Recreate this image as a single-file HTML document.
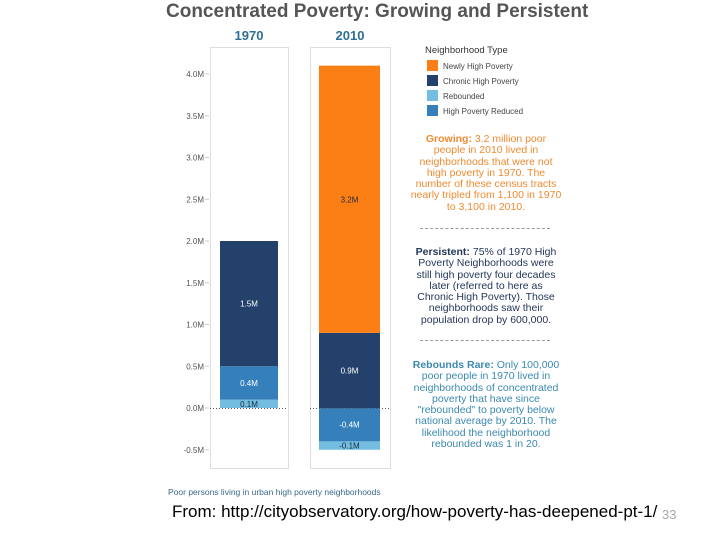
<!DOCTYPE html>
<html><head><meta charset="utf-8"><style>
body{margin:0;background:#fff;font-family:"Liberation Sans",sans-serif}
#root{position:relative;width:720px;height:540px;overflow:hidden}
.t{position:absolute;white-space:nowrap}
.note{position:absolute;text-align:center;font-size:10.5px;line-height:11.3px;width:152px}
</style></head><body>
<div id="root">
<div class="t" style="left:166px;top:1px;font-size:19px;font-weight:bold;color:#555">Concentrated Poverty: Growing and Persistent</div>
<svg id="chart" width="720" height="540" style="position:absolute;left:0;top:0"></svg>
<div class="t" style="left:425px;top:45px;font-size:9.5px;color:#333">Neighborhood Type</div>
<div class="note" style="left:410px;top:134px;color:#f08a30"><b>Growing:</b> 3.2 million poor people in 2010 lived in neighborhoods that were not high poverty in 1970. The number of these census tracts nearly tripled from 1,100 in 1970 to 3,100 in 2010.</div>
<div class="t" style="left:420px;top:228px;width:130px;border-top:1px dashed #999"></div>
<div class="note" style="left:410px;top:247px;color:#24375a"><b>Persistent:</b> 75% of 1970 High Poverty Neighborhoods were still high poverty four decades later (referred to here as Chronic High Poverty). Those neighborhoods saw their population drop by 600,000.</div>
<div class="t" style="left:420px;top:340px;width:130px;border-top:1px dashed #999"></div>
<div class="note" style="left:405px;top:360px;width:162px;color:#3b89b0"><b>Rebounds Rare:</b> Only 100,000 poor people in 1970 lived in neighborhoods of concentrated poverty that have since "rebounded" to poverty below national average by 2010. The likelihood the neighborhood rebounded was 1 in 20.</div>
<div class="t" style="left:168px;top:487px;font-size:8.5px;color:#3a6a8a">Poor persons living in urban high poverty neighborhoods</div>
<div class="t" style="left:172px;top:502px;font-size:17px;color:#000">From: http://cityobservatory.org/how-poverty-has-deepened-pt-1/</div>
<div class="t" style="left:662px;top:507px;font-size:13px;color:#aaa">33</div>
</div>
<script>
const years=["1970","2010"];
const seriesNames=["Rebounded","High Poverty Reduced","Chronic High Poverty","Newly High Poverty"];
const rebounded=[0.1,-0.1];
const reduced=[0.4,-0.4];
const chronic=[1.5,0.9];
const newly=[0,3.2];
const ticks=[4.0,3.5,3.0,2.5,2.0,1.5,1.0,0.5,0.0,-0.5];
const colors={"Newly High Poverty":"#fb7f14","Chronic High Poverty":"#23416b","Rebounded":"#72bde0","High Poverty Reduced":"#3580ba"};
const svg=document.getElementById('chart');const NS="http://www.w3.org/2000/svg";
const y=v=>408-v*83.5;
function el(tag,a){const e=document.createElementNS(NS,tag);for(const k in a)e.setAttribute(k,a[k]);svg.appendChild(e);return e;}
const panels=[{x:210,w:78,bx:220,bw:58},{x:310,w:80,bx:319,bw:61}];
panels.forEach((p,i)=>{
 const r=el('rect',{x:p.x+0.5,y:47.5,width:p.w,height:421,fill:'none',stroke:'#ddd'});
 
 
 const t=el('text',{x:p.x+p.w/2,y:40,'text-anchor':'middle','font-size':13,'font-weight':'bold',fill:'#2e6f93'});t.textContent=years[i];
 
 
});
ticks.forEach(v=>{
 const t=el('text',{x:204,y:y(v)+3,'text-anchor':'end','font-size':8,fill:'#555'});t.textContent=v.toFixed(1)+'M';
 
 
 el('line',{x1:205,x2:209,y1:y(v),y2:y(v),stroke:'#ccc'});
});
const posOrder=[["Rebounded",rebounded],["High Poverty Reduced",reduced],["Chronic High Poverty",chronic],["Newly High Poverty",newly]];
const negOrder=[["High Poverty Reduced",reduced],["Rebounded",rebounded],["Chronic High Poverty",chronic],["Newly High Poverty",newly]];
panels.forEach((p,i)=>{
 function draw(name,a,b,v){
  const top=y(Math.max(a,b)),bot=y(Math.min(a,b));
  const r=el('rect',{x:p.bx,y:top,width:p.bw,height:bot-top,fill:colors[name]});
  
  
  const lightTxt=name==="Rebounded"||name==="Newly High Poverty";
  const t=el('text',{x:p.bx+p.bw/2,y:(top+bot)/2+3,'text-anchor':'middle','font-size':8,fill:lightTxt?'#1a2a40':'#fff'});
  t.textContent=v.toFixed(1)+'M';
  
  
 }
 let pos=0,neg=0;
 posOrder.forEach(([name,arr])=>{const v=arr[i];if(v>0){draw(name,pos,pos+v,v);pos+=v;}});
 negOrder.forEach(([name,arr])=>{const v=arr[i];if(v<0){draw(name,neg,neg+v,v);neg+=v;}});
 el('line',{x1:p.x,x2:p.x+p.w,y1:y(0)+0.5,y2:y(0)+0.5,stroke:'#555','stroke-dasharray':'1,2'});
});
const legendOrder=["Newly High Poverty","Chronic High Poverty","Rebounded","High Poverty Reduced"];
legendOrder.forEach((n,i)=>{
 const yy=60+i*15;
 const r=el('rect',{x:427,y:yy,width:11,height:11,fill:colors[n]});
 
 
 const t=el('text',{x:443,y:yy+9,'font-size':8,fill:'#444'});t.textContent=n;
 
 
});
</script>
</body></html>
